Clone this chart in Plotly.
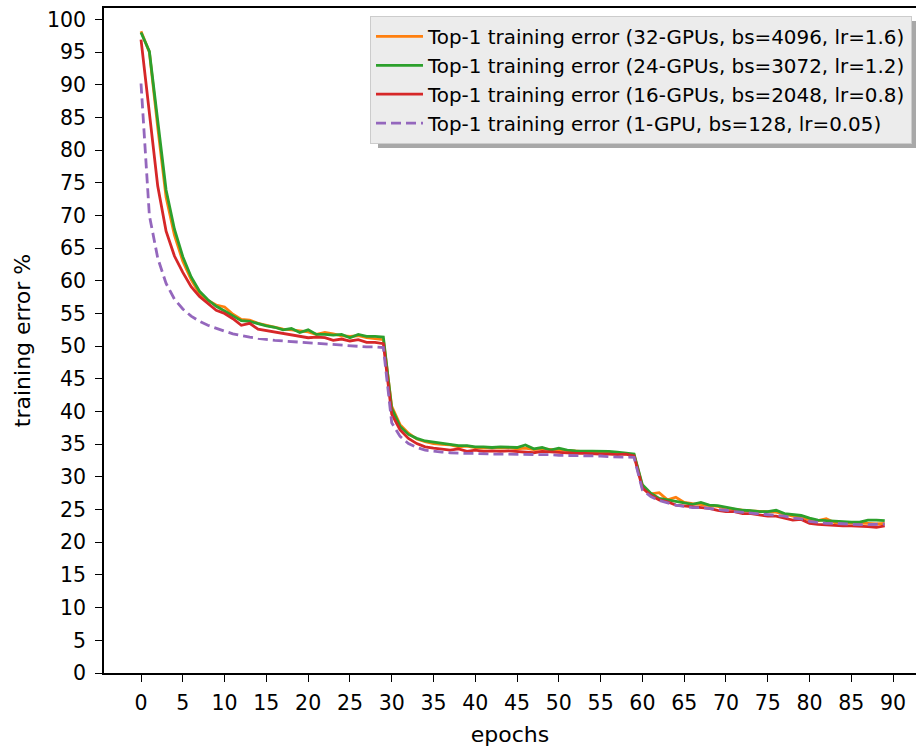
import plotly.graph_objects as go

# Top-1 training error per epoch for different GPU counts / batch sizes
epochs = list(range(90))

err_32gpu = [98.2, 95.0, 83.5, 72.8, 67.0, 63.0, 60.2, 58.0, 57.0, 56.3,
             56.0, 54.9, 54.1, 54.0, 53.5, 53.2, 52.8, 52.6, 52.5, 52.3,
             52.2, 51.8, 52.1, 51.9, 51.6, 51.5, 51.6, 51.3, 51.2, 51.0,
             40.8, 38.0, 36.7, 35.8, 35.4, 35.1, 35.0, 34.9, 34.6, 34.7,
             34.5, 34.4, 34.5, 34.4, 34.5, 34.3, 34.4, 34.2, 34.3, 34.2,
             34.1, 34.0, 33.9, 33.9, 33.8, 33.8, 33.7, 33.7, 33.6, 33.4,
             28.6, 27.4, 27.6, 26.5, 26.9, 26.1, 25.9, 25.8, 25.6, 25.5,
             25.2, 25.0, 24.9, 24.8, 24.7, 24.6, 24.6, 24.3, 24.0, 23.9,
             23.4, 23.3, 23.6, 23.0, 23.0, 23.0, 22.9, 22.9, 22.8, 22.9]

err_24gpu = [98.0, 95.1, 84.5, 73.9, 67.9, 63.7, 60.6, 58.4, 57.1, 56.1,
             55.4, 54.6, 53.9, 53.8, 53.4, 53.1, 52.9, 52.5, 52.7, 52.1,
             52.5, 51.8, 51.8, 51.7, 51.8, 51.3, 51.8, 51.5, 51.5, 51.4,
             40.5, 37.7, 36.5, 35.9, 35.5, 35.3, 35.1, 35.0, 34.8, 34.8,
             34.6, 34.6, 34.5, 34.6, 34.5, 34.5, 34.9, 34.3, 34.5, 34.1,
             34.4, 34.1, 34.0, 34.0, 34.0, 33.9, 33.9, 33.8, 33.7, 33.5,
             28.8, 27.5, 26.7, 26.5, 26.2, 26.0, 25.8, 26.1, 25.7, 25.6,
             25.4, 25.1, 24.9, 24.85, 24.7, 24.7, 24.9, 24.4, 24.2, 24.1,
             23.7, 23.4, 23.3, 23.2, 23.2, 23.1, 23.1, 23.4, 23.4, 23.3]

err_16gpu = [96.9, 86.0, 74.5, 67.6, 63.8, 61.3, 59.1, 57.6, 56.5, 55.5,
             55.0, 54.2, 53.2, 53.5, 52.6, 52.4, 52.2, 51.9, 51.8, 51.5,
             51.3, 51.4, 51.3, 50.9, 51.1, 50.8, 51.0, 50.6, 50.6, 50.4,
             39.6, 37.2, 35.9, 35.1, 34.6, 34.4, 34.2, 34.1, 34.3, 33.9,
             34.1, 33.9, 34.0, 33.9, 34.0, 33.9, 33.9, 33.7, 33.9, 33.8,
             33.8, 33.7, 33.6, 33.6, 33.5, 33.5, 33.5, 33.4, 33.5, 33.2,
             28.3, 27.2, 26.5, 26.2, 25.7, 25.6, 25.4, 25.4, 25.2, 24.9,
             24.7, 24.7, 24.4, 24.4, 24.2, 24.0, 24.0, 23.7, 23.4, 23.5,
             22.9, 22.75, 22.65, 22.6, 22.5, 22.5, 22.5, 22.4, 22.3, 22.5]

err_1gpu = [90.2, 70.0, 63.5, 59.6, 57.2, 55.7, 54.6, 53.8, 53.2, 52.7,
            52.3, 51.9, 51.6, 51.4, 51.2, 51.0, 50.9, 50.8, 50.7, 50.6,
            50.5, 50.4, 50.3, 50.2, 50.2, 50.1, 50.0, 49.9, 49.9, 49.8,
            38.3, 36.2, 35.1, 34.5, 34.1, 33.9, 33.8, 33.7, 33.6, 33.6,
            33.6, 33.5, 33.5, 33.5, 33.5, 33.5, 33.5, 33.4, 33.4, 33.4,
            33.3, 33.3, 33.3, 33.2, 33.2, 33.2, 33.1, 33.1, 33.1, 33.0,
            28.0, 27.0, 26.4, 26.0, 25.7, 25.5, 25.3, 25.3, 25.2, 25.0,
            24.9, 24.7, 24.6, 24.5, 24.4, 24.3, 24.2, 24.0, 23.7, 23.6,
            23.2, 23.0, 22.9, 22.9, 22.8, 22.8, 22.7, 22.7, 22.8, 22.8]

series = [
    ("Top-1 training error (32-GPUs, bs=4096, lr=1.6)", err_32gpu, "#ff7f0e", "solid"),
    ("Top-1 training error (24-GPUs, bs=3072, lr=1.2)", err_24gpu, "#2ca02c", "solid"),
    ("Top-1 training error (16-GPUs, bs=2048, lr=0.8)", err_16gpu, "#d62728", "solid"),
    ("Top-1 training error (1-GPU, bs=128, lr=0.05)", err_1gpu, "#9467bd", "10px,5px"),
]

x_ticks = list(range(0, 91, 5))
y_ticks = list(range(0, 101, 5))

FONT = "DejaVu Sans"

fig = go.Figure()
for i, (name, vals, color, dash) in enumerate(series):
    fig.add_trace(go.Scatter(
        x=epochs, y=vals, mode="lines", name=name,
        legendgroup=f"g{i}",
        line=dict(color=color, width=2.8, dash=dash),
    ))

# legend drop shadow (paper coordinates)
fig.add_shape(type="rect", xref="paper", yref="paper",
              x0=(378 - 104) / 812, x1=1.0,
              y0=(673 - 148) / 665, y1=(673 - 21) / 665,
              fillcolor="#a8a8a8", line=dict(width=0), layer="above")

fig.update_layout(
    width=916, height=748,
    margin=dict(l=104, r=0, t=8, b=75),
    paper_bgcolor="white", plot_bgcolor="white",
    font=dict(family=FONT, size=21, color="black"),
    showlegend=True,
    legend=dict(
        x=(912 - 104) / 812, xanchor="right", y=(673 - 16) / 665, yanchor="top",
        bgcolor="#ececec", bordercolor="#cccccc", borderwidth=1,
        font=dict(family=FONT, size=19.9, color="black"),
        traceorder="grouped", tracegroupgap=0, itemwidth=47,
    ),
    xaxis=dict(
        range=[-4.43, 92.74], tickmode="array", tickvals=x_ticks,
        ticktext=[str(t) for t in x_ticks],
        ticks="outside", ticklen=7, tickwidth=1.3, tickcolor="black",
        showline=True, linecolor="black", linewidth=1.5, mirror=True,
        showgrid=False, zeroline=False, ticklabelstandoff=4,
        title=dict(text="epochs", font=dict(size=22), standoff=12),
        tickfont=dict(size=20.5),
    ),
    yaxis=dict(
        range=[0, 101.75], tickmode="array", tickvals=y_ticks,
        ticktext=[str(t) for t in y_ticks],
        ticks="outside", ticklen=7, tickwidth=1.3, tickcolor="black",
        showline=True, linecolor="black", linewidth=1.5,
        showgrid=False, zeroline=False, ticklabelstandoff=5,
        title=dict(text="training error %", font=dict(size=22), standoff=10),
        tickfont=dict(size=20.5),
    ),
)

fig.write_html("out.html")
